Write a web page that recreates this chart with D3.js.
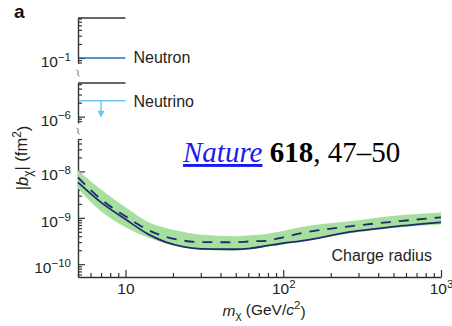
<!DOCTYPE html>
<html>
<head>
<meta charset="utf-8">
<script src="https://cdn.jsdelivr.net/npm/d3@7"></script>
<style>
  body { margin: 0; background: #fff; }
  svg { font-family: "Liberation Sans", Arial, Helvetica, sans-serif; }
</style>
</head>
<body>
<svg id="chart" width="452" height="326"></svg>
<script>
// dark matter mass (GeV/c^2)
var mass = [5, 7, 10, 14, 18, 23, 30, 48, 62, 78, 100, 128, 265, 550, 1000];
// charge radius limits |b_chi| (fm^2)
var observed = [5.8e-9, 2.15e-9, 9.3e-10, 4.4e-10, 3.0e-10, 2.4e-10, 2.15e-10, 2.1e-10, 2.2e-10, 2.48e-10, 2.83e-10, 3.13e-10, 4.96e-10, 6.67e-10, 8.0e-10];
var expected = [7.4e-9, 2.5e-9, 1.08e-9, 5.4e-10, 3.9e-10, 3.25e-10, 3.0e-10, 2.97e-10, 3.1e-10, 3.2e-10, 3.8e-10, 4.6e-10, 6.56e-10, 8.5e-10, 1.03e-9];
var bandLow = [4.3e-9, 1.38e-9, 6.25e-10, 3.7e-10, 2.8e-10, 2.35e-10, 2.05e-10, 1.95e-10, 2.1e-10, 2.35e-10, 2.7e-10, 3.1e-10, 4.65e-10, 6.25e-10, 7.2e-10];
var bandHigh = [1.05e-8, 4.1e-9, 1.68e-9, 8.0e-10, 6.0e-10, 5.0e-10, 4.3e-10, 4.0e-10, 4.2e-10, 4.5e-10, 5.2e-10, 6.25e-10, 8.4e-10, 1.13e-9, 1.31e-9];

// reference values shown in the upper insets
var neutron = 0.1;
var neutrino = 2.2e-6;
var insetMass = [5, 10];
var neutrinoArrowMass = 7;

// labelled ticks, written as exponent of 10
var xTickExp = [1, 2, 3];
var topTickExp = [-1];
var midTickExp = [-6];
var lowTickExp = [-8, -9, -10];

var ink = "#231f20";
var svg = d3.select("#chart");

// scales (one x, three stacked broken y panels)
var x = d3.scaleLog().domain([5, 1000]).range([78, 441]);
var yTop = d3.scaleLog().domain([0.078, 0.72]).range([63, 18]);
var yMid = d3.scaleLog().domain([7.3e-7, 5.3e-6]).range([123, 83]);
var yLow = d3.scaleLog().domain([5.3e-11, 5e-8]).range([277, 139]);

function isMajor(v) {
  var l = Math.log10(v);
  return Math.abs(l - Math.round(l)) < 1e-6;
}

function powLabel(textSel, e) {
  textSel.text(null);
  textSel.append("tspan").text("10");
  if (e !== 1) {
    textSel.append("tspan")
      .attr("font-size", "11.5px")
      .attr("dy", "-0.55em")
      .text(String(e).replace("-", "\u2212"));
  }
}

// y axis for each panel
function drawY(scale, exps) {
  var g = svg.append("g")
    .attr("transform", "translate(" + x.range()[0] + ",0)")
    .call(d3.axisLeft(scale)
      .tickValues(scale.ticks())
      .tickSizeOuter(0)
      .tickSizeInner(-4)
      .tickPadding(7)
      .tickFormat(""));
  g.attr("font-size", 15.5).attr("font-family", null).attr("color", "#333");
  g.select(".domain").attr("stroke-width", 1.4);
  g.selectAll(".tick line").attr("stroke-width", 1.2);
  g.selectAll(".tick").filter(isMajor).select("line").attr("x2", 7);
  g.selectAll(".tick").filter(function(d) {
      return exps.indexOf(Math.round(Math.log10(d))) >= 0 && isMajor(d);
    })
    .select("text")
    .attr("fill", ink)
    .attr("dy", "0.55em")
    .each(function(d) { powLabel(d3.select(this), Math.round(Math.log10(d))); });
  return g;
}

drawY(yTop, topTickExp);
drawY(yMid, midTickExp);
drawY(yLow, lowTickExp);

// top frame lines of the two insets
[yTop, yMid].forEach(function(s) {
  svg.append("line")
    .attr("x1", x(insetMass[0])).attr("x2", x(insetMass[1]))
    .attr("y1", s.range()[1]).attr("y2", s.range()[1])
    .attr("stroke", "#333").attr("stroke-width", 1.4);
});

// axis break marks
[(yTop.range()[0] + yMid.range()[1]) / 2, (yMid.range()[0] + yLow.range()[1]) / 2].forEach(function(yb) {
  var x0 = x.range()[0];
  svg.append("path")
    .attr("d", "M" + (x0 - 1.5) + "," + (yb - 3) + " C" + (x0 + 2.5) + "," + (yb - 2) + " " + (x0 - 2.5) + "," + (yb + 2) + " " + (x0 + 1.5) + "," + (yb + 3))
    .attr("fill", "none").attr("stroke", "#555").attr("stroke-width", 0.9);
});

// x axis
var gx = svg.append("g")
  .attr("transform", "translate(0," + yLow.range()[0] + ")")
  .call(d3.axisBottom(x)
    .tickValues(x.ticks())
    .tickSizeOuter(0)
    .tickSizeInner(-4)
    .tickPadding(6)
    .tickFormat(""));
gx.attr("font-size", 15.5).attr("font-family", null).attr("color", "#333");
gx.select(".domain").attr("stroke-width", 1.4);
gx.selectAll(".tick line").attr("stroke-width", 1.2);
gx.selectAll(".tick").filter(isMajor).select("line").attr("y2", -7);
gx.selectAll(".tick").filter(function(d) {
    return isMajor(d) && xTickExp.indexOf(Math.round(Math.log10(d))) >= 0;
  })
  .select("text")
  .attr("fill", ink)
  .each(function(d) { powLabel(d3.select(this), Math.round(Math.log10(d))); });

// neutron line
svg.append("line")
  .attr("x1", x(insetMass[0]) + 1).attr("x2", x(insetMass[1]))
  .attr("y1", yTop(neutron)).attr("y2", yTop(neutron))
  .attr("stroke", "#2a6cb8").attr("stroke-width", 1.6);

// neutrino line + upper limit arrow
var nuColor = "#72c5ec";
svg.append("line")
  .attr("x1", x(insetMass[0]) + 1).attr("x2", x(insetMass[1]))
  .attr("y1", yMid(neutrino)).attr("y2", yMid(neutrino))
  .attr("stroke", nuColor).attr("stroke-width", 1.6);
var ax = x(neutrinoArrowMass), ay = yMid(neutrino), aEnd = yMid(1e-6);
svg.append("line")
  .attr("x1", ax).attr("x2", ax)
  .attr("y1", ay).attr("y2", aEnd - 5)
  .attr("stroke", nuColor).attr("stroke-width", 1.4);
svg.append("path")
  .attr("d", "M" + (ax - 3.5) + "," + (aEnd - 6) + "L" + (ax + 3.5) + "," + (aEnd - 6) + "L" + ax + "," + (aEnd + 1) + "Z")
  .attr("fill", nuColor);

svg.append("text").attr("x", x(insetMass[1]) + 8).attr("y", yTop(neutron) + 5.5)
  .attr("font-size", 16).attr("fill", ink).text("Neutron");
svg.append("text").attr("x", x(insetMass[1]) + 8).attr("y", yMid(neutrino) + 6.5)
  .attr("font-size", 16).attr("fill", ink).text("Neutrino");

// charge radius band and lines
var idx = d3.range(mass.length);
var band = d3.area()
  .x(function(i) { return x(mass[i]); })
  .y0(function(i) { return yLow(bandLow[i]); })
  .y1(function(i) { return yLow(bandHigh[i]); })
  .curve(d3.curveMonotoneX);
svg.append("path").datum(idx).attr("d", band).attr("fill", "#a7df9e");

function lineOf(arr) {
  return d3.line()
    .x(function(i) { return x(mass[i]); })
    .y(function(i) { return yLow(arr[i]); })
    .curve(d3.curveMonotoneX);
}
svg.append("path").datum(idx).attr("d", lineOf(expected))
  .attr("fill", "none").attr("stroke", "#1d2d6b").attr("stroke-width", 1.8)
  .attr("stroke-dasharray", "10,8");
svg.append("path").datum(idx).attr("d", lineOf(observed))
  .attr("fill", "none").attr("stroke", "#1d2d6b").attr("stroke-width", 1.8);

svg.append("text").attr("x", 432).attr("y", 261).attr("text-anchor", "end")
  .attr("font-size", 16).attr("fill", ink).text("Charge radius");

// axis titles
var yt = svg.append("text")
  .attr("transform", "translate(28,158) rotate(-90)")
  .attr("text-anchor", "middle").attr("font-size", 16.5).attr("fill", ink);
yt.append("tspan").text("|");
yt.append("tspan").attr("font-style", "italic").text("b");
yt.append("tspan").attr("font-size", "12px").attr("dy", "0.3em").text("\u03c7");
yt.append("tspan").attr("dy", "-0.3em").text("| (fm");
yt.append("tspan").attr("font-size", "12px").attr("dy", "-0.5em").text("2");
yt.append("tspan").attr("dy", "0.5em").text(")");

var xt = svg.append("text")
  .attr("x", 264).attr("y", 316)
  .attr("text-anchor", "middle").attr("font-size", 15.5).attr("fill", ink);
xt.append("tspan").attr("font-style", "italic").text("m");
xt.append("tspan").attr("font-size", "11.5px").attr("dy", "0.3em").text("\u03c7");
xt.append("tspan").attr("dy", "-0.3em").text(" (GeV/");
xt.append("tspan").attr("font-style", "italic").text("c");
xt.append("tspan").attr("font-size", "11.5px").attr("dy", "-0.5em").text("2");
xt.append("tspan").attr("dy", "0.5em").text(")");

// panel letter
svg.append("text").attr("x", 14).attr("y", 18)
  .attr("font-size", 19).attr("font-weight", "bold").attr("fill", "#111").text("a");

// citation
var cite = svg.append("text").attr("x", 183).attr("y", 162)
  .attr("font-family", "'Liberation Serif', 'Times New Roman', serif")
  .attr("font-size", 29).attr("fill", "#000");
cite.append("tspan").attr("font-style", "italic").attr("fill", "#1a1aee")
  .attr("text-decoration", "underline").text("Nature");
cite.append("tspan").text(" ");
cite.append("tspan").attr("font-weight", "bold").text("618");
cite.append("tspan").text(", 47\u201350");
</script>
</body>
</html>
